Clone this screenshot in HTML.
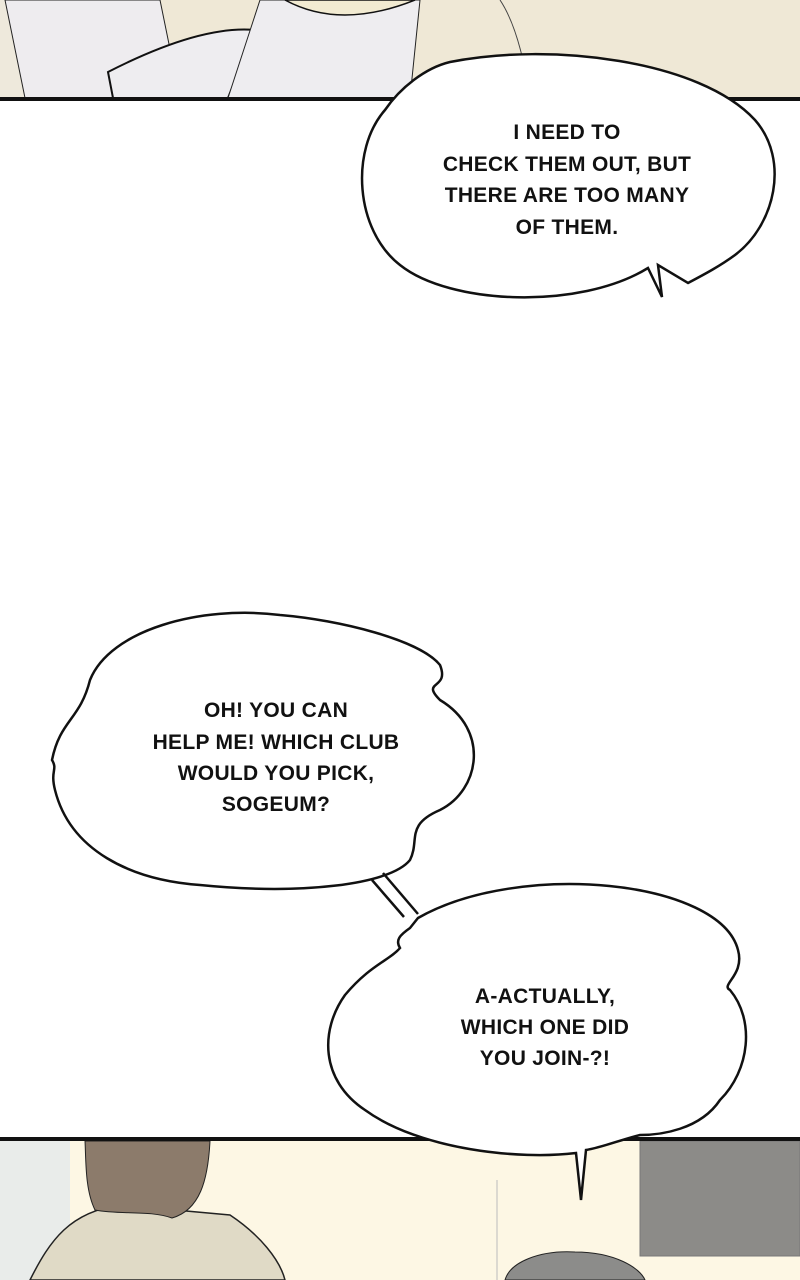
<!DOCTYPE html>
<html><head><meta charset="utf-8"><style>
html,body{margin:0;padding:0;background:#fff;}
svg{display:block}
text{font-family:"Liberation Sans",sans-serif;font-size:21px;font-weight:bold;fill:#111;text-anchor:middle;letter-spacing:0.3px}
</style></head><body>
<svg width="800" height="1280" viewBox="0 0 800 1280">
<rect x="0" y="0" width="800" height="100" fill="#efe8d6"/>
<path d="M0 0 L40 0 L30 98 L0 98 Z" fill="#eee9dc"/>
<path d="M5 0 L160 0 L180 98 L25 98 Z" fill="#eeecef" stroke="#222" stroke-width="1"/>
<path d="M108 72 Q200 25 255 30 L228 98 L113 98 Z" fill="#eeedf0" stroke="#111" stroke-width="2"/>
<path d="M260 0 L420 0 L410 98 L228 98 Z" fill="#eeedf0" stroke="#222" stroke-width="1"/>
<path d="M285 0 Q340 30 415 0 Z" fill="#f2ebd2" stroke="#111" stroke-width="1.5"/>
<path d="M500 0 Q520 30 530 98" fill="none" stroke="#444" stroke-width="1"/>
<rect x="0" y="97" width="800" height="4" fill="#111"/>
<path d="M450 62 C550 42 700 60 755 120 C790 160 775 225 735 255 C720 266 705 274 688 283 L658 265 L662 297 L648 268 C580 310 450 305 400 265 C355 230 350 150 385 110 C400 88 425 68 450 62 Z" fill="#fff" stroke="#111" stroke-width="2.5"/>
<text x="567" y="139">I NEED TO</text>
<text x="567" y="171">CHECK THEM OUT, BUT</text>
<text x="567" y="202">THERE ARE TOO MANY</text>
<text x="567" y="234">OF THEM.</text>
<path d="M90 680 C110 630 200 605 280 615 C340 620 420 640 440 665 C450 690 420 680 440 700 C490 730 480 790 440 810 C405 825 420 840 410 860 C390 885 300 895 200 885 C130 880 70 850 55 790 C50 770 58 770 52 760 C60 720 80 720 90 680 Z" fill="#fff" stroke="#111" stroke-width="2.5"/>
<text x="276" y="717">OH! YOU CAN</text>
<text x="276" y="749">HELP ME! WHICH CLUB</text>
<text x="276" y="780">WOULD YOU PICK,</text>
<text x="276" y="811">SOGEUM?</text>
<path d="M372 880 L404 917 M383 873 L418 914" stroke="#111" stroke-width="2.5" fill="none"/>
<rect x="0" y="1141" width="800" height="139" fill="#fdf7e4"/>
<rect x="0" y="1141" width="70" height="139" fill="#e9ecea"/>
<line x1="497" y1="1180" x2="497" y2="1280" stroke="#bbb" stroke-width="1"/>
<rect x="640" y="1141" width="160" height="115" fill="#8c8b88" stroke="#777"/>
<path d="M30 1280 C50 1240 70 1212 120 1205 L230 1215 C260 1235 280 1260 285 1280 Z" fill="#e0dac6" stroke="#222" stroke-width="1.5"/>
<path d="M85 1141 L210 1141 C208 1180 200 1210 172 1218 C150 1210 120 1215 95 1210 C85 1190 86 1160 85 1141 Z" fill="#8c7b6b" stroke="#222" stroke-width="1"/>
<path d="M505 1280 C510 1262 540 1250 575 1252 C615 1252 640 1268 645 1280 Z" fill="#8c8c8a" stroke="#222" stroke-width="1"/>
<rect x="0" y="1137" width="800" height="4" fill="#111"/>
<path d="M418 918 C520 860 720 880 738 950 C745 975 720 985 730 990 C755 1020 750 1070 720 1100 C700 1130 660 1135 640 1135 C620 1140 600 1148 586 1150 L581 1200 L576 1153 C520 1160 420 1150 365 1110 C320 1080 320 1030 345 995 C370 965 390 960 400 948 C395 940 400 935 410 928 Z" fill="#fff" stroke="#111" stroke-width="2.5"/>
<text x="545" y="1003">A-ACTUALLY,</text>
<text x="545" y="1034">WHICH ONE DID</text>
<text x="545" y="1065">YOU JOIN-?!</text>
</svg>
</body></html>
